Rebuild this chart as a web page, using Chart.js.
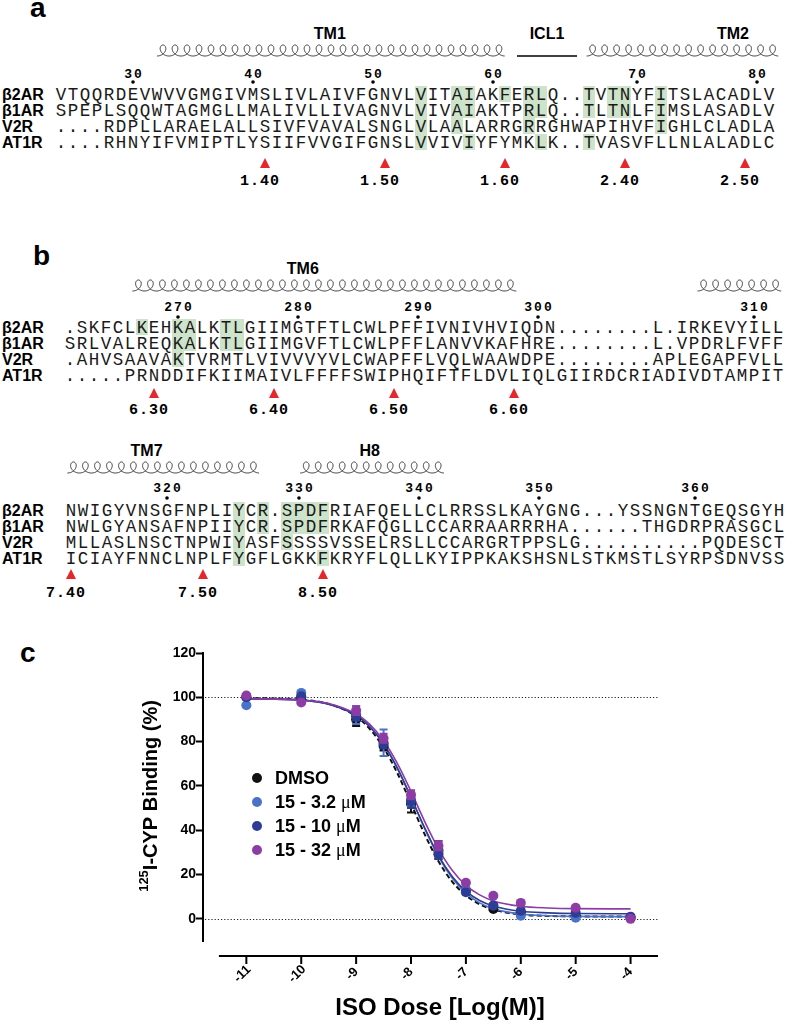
<!DOCTYPE html>
<html>
<head>
<meta charset="utf-8">
<script src="https://cdn.jsdelivr.net/npm/chart.js@4.4.1/dist/chart.umd.min.js"></script>
<style>
  body { margin: 0; background: #fff; }
  #fig { position: relative; width: 787px; height: 1020px; overflow: hidden; font-family: 'Liberation Sans', Arial, sans-serif; }
  #aln { position: absolute; left: 0; top: 0; }
  #panelC { position: absolute; left: 0; top: 620px; width: 787px; height: 400px; }
  #legend { position: absolute; left: 252px; top: 766px; font: bold 18px 'Liberation Sans', Arial, sans-serif; color: #000; }
  .lg { height: 24px; line-height: 24px; white-space: nowrap; position: relative; padding-left: 23px; }
  .lg i { position: absolute; left: 0; top: 7px; width: 10px; height: 10px; border-radius: 50%; }
  .mu { font-family: 'Liberation Serif', serif; font-weight: normal; }
  .pl { font: bold 28px 'Liberation Sans', Arial, sans-serif; fill: #000; }
  .rl { font: bold 16px 'Liberation Sans', Arial, sans-serif; fill: #000; }
  .sq { font: 17.5px 'Liberation Mono', monospace; fill: #1a1a1a; text-anchor: middle; }
  .rn { font: bold 13px 'Liberation Mono', monospace; letter-spacing: 2px; fill: #000; text-anchor: middle; }
  .mk { font: bold 15px 'Liberation Mono', monospace; letter-spacing: 1px; fill: #000; text-anchor: middle; }
  .tm { font: bold 16px 'Liberation Sans', Arial, sans-serif; fill: #000; text-anchor: middle; }
</style>
</head>
<body>
<div id="fig">
  <svg id="aln" width="787" height="1020"></svg>
  <div id="panelC"><canvas id="doseChart"></canvas></div>
  <div id="legend"></div>
</div>
<script>
// ---------- alignment data ----------
const receptors = ["β2AR", "β1AR", "V2R", "AT1R"];

const seqA = [
  "VTQQRDEVWVVGMGIVMSLIVLAIVFGNVLVITAIAKFERLQ..TVTNYFITSLACADLV",
  "SPEPLSQQWTAGMGLLMALIVLLIVAGNVLVIVAIAKTPRLQ..TLTNLFIMSLASADLV",
  "....RDPLLARAELALLSIVFVAVALSNGLVLAALARRGRRGHWAPIHVFIGHLCLADLA",
  "....RHNYIFVMIPTLYSIIFVVGIFGNSLVVIVIYFYMKLK..TVASVFLLNLALADLC"
];
const seqB1 = [
  ".SKFCLKEHKALKTLGIIMGTFTLCWLPFFIVNIVHVIQDN........L.IRKEVYILL",
  "SRLVALREQKALKTLGIIMGVFTLCWLPFFLANVVKAFHRE........L.VPDRLFVFF",
  ".AHVSAAVAKTVRMTLVIVVVYVLCWAPFFLVQLWAAWDPE........APLEGAPFVLL",
  ".....PRNDDIFKIIMAIVLFFFFSWIPHQIFTFLDVLIQLGIIRDCRIADIVDTAMPIT"
];
const seqB2 = [
  "NWIGYVNSGFNPLIYCR.SPDFRIAFQELLCLRRSSLKAYGNG...YSSNGNTGEQSGYH",
  "NWLGYANSAFNPIIYCR.SPDFRKAFQGLLCCARRAARRRHA......THGDRPRASGCL",
  "MLLASLNSCTNPWIYASFSSSSVSSELRSLLCCARGRTPPSLG..........PQDESCT",
  "ICIAYFNNCLNPLFYGFLGKKFKRYFLQLLKYIPPKAKSHSNLSTKMSTLSYRPSDNVSS"
];

// highlighted columns per receptor row
const hlA = [[30, 33, 34, 37, 39, 40, 44, 46, 47, 50], [30, 33, 34, 39, 40, 44, 46, 47, 50], [30, 33, 39, 50], [30, 34, 40, 44]];
const hlB1 = [[6, 9, 10, 13, 14], [9, 10, 13, 14], [9], []];
const hlB2 = [[14, 16, 18, 19, 20, 21], [14, 16, 18, 19, 20, 21], [14, 18], [14, 21]];

// residue numbering (column, label)
const rulerA = [[6, "30"], [16, "40"], [26, "50"], [36, "60"], [48, "70"], [58, "80"]];
const rulerB1 = [[9, "270"], [19, "280"], [29, "290"], [39, "300"], [57, "310"]];
const rulerB2 = [[8, "320"], [19, "330"], [29, "340"], [39, "350"], [52, "360"]];

// Ballesteros-Weinstein marks (column, label)
const marksA = [[17, "1.40"], [27, "1.50"], [37, "1.60"], [47, "2.40"], [57, "2.50"]];
const marksB1 = [[7, "6.30"], [17, "6.40"], [27, "6.50"], [37, "6.60"]];
const marksB2 = [[0, "7.40"], [11, "7.50"], [21, "8.50"]];

// secondary structure: kind, from col, to col, label, label col
const helixA = [["coil", 8, 37, "TM1", 22.4], ["line", 38, 43, "ICL1", 40.5], ["coil", 43.8, 59.8, "TM2", 56]];
const helixB1 = [["coil", 5.2, 37.3, "TM6", 19.4], ["coil", 52.3, 59.5, "", 0]];
const helixB2 = [["coil", -0.3, 15.6, "TM7", 6.3], ["coil", 19.1, 31, "H8", 24.9]];

// ---------- binding data (panel c) ----------
const doseLog = [-11, -10, -9, -8.5, -8, -7.5, -7, -6.5, -6, -5, -4];
const bindDMSO = [100, 100, 90, 78, 52, 31, 13, 4.5, 3, 1.5, 0.5];
const bind3_2 = [96.4, 102, 92, 79.5, 54, 30, 13, 6, 1.4, 0.5, 0.5];
const bind10 = [100, 100.5, 91.5, 79, 53, 29, 12, 6, 3.6, 2.7, 1];
const bind32 = [100.8, 97.7, 94, 81.5, 56, 33, 16.3, 10.4, 7.2, 5, 0];
const semDMSO = [0, 0, 3, 2, 4, 4, 1, 0, 0, 0, 0];
const sem3_2 = [0, 0, 4, 6, 3, 2, 1, 0, 0, 0, 0];
const sem10 = [0, 0, 2, 2, 3, 2, 1, 0, 0, 0, 0];
const sem32 = [0, 0, 2, 2, 2, 2, 0, 0, 0, 0, 0];

// fitted curves
const curveLog = [-11, -10, -9.5, -9, -8.75, -8.5, -8.25, -8, -7.75, -7.5, -7.25, -7, -6.75, -6.5, -6, -5.5, -5, -4];
const fitDMSO = [99.7, 98.9, 97.0, 91.4, 85.7, 77.3, 65.8, 52.1, 38.1, 26.0, 16.8, 10.6, 6.6, 4.2, 2.0, 1.3, 1.1, 1.0];
const fit3_2 = [99.4, 98.7, 97.0, 91.9, 86.8, 79.0, 68.1, 54.8, 40.7, 28.1, 18.4, 11.6, 7.2, 4.6, 2.2, 1.4, 1.1, 1.0];
const fit10 = [99.4, 98.7, 96.9, 91.9, 86.7, 78.9, 68.0, 54.8, 41.0, 28.6, 19.1, 12.5, 8.3, 5.8, 3.4, 2.7, 2.4, 2.3];
const fit32 = [99.4, 98.8, 97.2, 92.5, 87.8, 80.4, 70.2, 57.5, 43.9, 31.6, 21.9, 15.1, 10.8, 8.1, 5.7, 4.9, 4.6, 4.5];

const seriesNames = ["DMSO", "15 - 3.2 μM", "15 - 10 μM", "15 - 32 μM"];
const yTickVals = [0, 20, 40, 60, 80, 100, 120];
const xTickVals = [-11, -10, -9, -8, -7, -6, -5, -4];
const refLines = [0, 100];

const COLORS = ["#111111", "#4a72c8", "#2d3c94", "#8c3ca4"];

// ===============================
// alignment panels (SVG)
// ===============================
const NS = "http://www.w3.org/2000/svg";
const svg = document.getElementById("aln");
const CELL = 12, ROW = 16;

function add(tag, attrs, txt) {
  const e = document.createElementNS(NS, tag);
  for (const k in attrs) e.setAttribute(k, attrs[k]);
  if (txt != null) e.textContent = txt;
  svg.appendChild(e);
  return e;
}

// helix drawn as a looped coil, one loop per residue
function coilPath(x1, x2, top) {
  const a = CELL / (2 * Math.PI), b = 5.5;
  const turns = Math.round((x2 - x1) / CELL);
  let d = "";
  for (let t = Math.PI; t <= Math.PI + turns * 2 * Math.PI + 1e-6; t += 0.08) {
    const x = x1 + a * (t - Math.PI) - b * Math.sin(t);
    const y = top + b * (1 - Math.cos(t));
    d += (d ? "L" : "M") + x.toFixed(2) + " " + y.toFixed(2);
  }
  return d;
}

function drawBlock(L, seqs, hl, ruler, marks, helices) {
  const cx = i => L.x0 + i * CELL;

  hl.forEach((cols, r) => cols.forEach(c => {
    add("rect", { x: cx(c) - 6, y: L.rowY + r * ROW - 14, width: CELL, height: ROW, fill: "#cde3ca" });
  }));

  seqs.forEach((s, r) => {
    const y = L.rowY + r * ROW;
    add("text", { x: 2, y: y, class: "rl" }, receptors[r]);
    const xs = Array.from(s, (_, i) => cx(i)).join(" ");
    add("text", { x: xs, y: y, class: "sq" }, s);
  });

  ruler.forEach(([c, lab]) => {
    add("text", { x: cx(c) + 1, y: L.rulerY, class: "rn" }, lab);
    add("circle", { cx: cx(c), cy: L.dotY, r: 1.8, fill: "#000" });
  });

  marks.forEach(([c, lab]) => {
    const x = cx(c);
    add("polygon", { points: `${x - 5},${L.markTop + 10} ${x + 5},${L.markTop + 10} ${x},${L.markTop}`, fill: "#e5262b" });
    add("text", { x: x - 5, y: L.markLabelY, class: "mk" }, lab);
  });

  helices.forEach(([kind, from, to, lab, at]) => {
    if (kind === "coil") {
      add("path", { d: coilPath(cx(from), cx(to), L.coilTop), fill: "none", stroke: "#333", "stroke-width": 1 });
    } else {
      add("line", { x1: cx(from), x2: cx(to), y1: L.coilTop + 11, y2: L.coilTop + 11, stroke: "#000", "stroke-width": 1.5 });
    }
    if (lab) add("text", { x: cx(at), y: L.labelY, class: "tm" }, lab);
  });
}

add("text", { x: 30, y: 17, class: "pl" }, "a");
add("text", { x: 33, y: 265, class: "pl" }, "b");
add("text", { x: 20, y: 662, class: "pl" }, "c");

drawBlock({ x0: 61, rowY: 100, rulerY: 78, dotY: 82, markTop: 158, markLabelY: 185, coilTop: 45, labelY: 39 },
  seqA, hlA, rulerA, marksA, helixA);
drawBlock({ x0: 70, rowY: 333, rulerY: 311, dotY: 317, markTop: 388, markLabelY: 414, coilTop: 280, labelY: 274 },
  seqB1, hlB1, rulerB1, marksB1, helixB1);
drawBlock({ x0: 71, rowY: 516, rulerY: 492, dotY: 498, markTop: 569, markLabelY: 597, coilTop: 462, labelY: 456 },
  seqB2, hlB2, rulerB2, marksB2, helixB2);

// ===============================
// legend (HTML)
// ===============================
const legend = document.getElementById("legend");
seriesNames.forEach((name, k) => {
  const row = document.createElement("div");
  row.className = "lg";
  const dot = document.createElement("i");
  dot.style.background = COLORS[k];
  row.appendChild(dot);
  name.split("μ").forEach((part, j) => {
    if (j > 0) {
      const mu = document.createElement("span");
      mu.className = "mu";
      mu.textContent = "μ";
      row.appendChild(mu);
    }
    row.appendChild(document.createTextNode(part));
  });
  legend.appendChild(row);
});

// ===============================
// panel c chart
// ===============================
const pointVals = [bindDMSO, bind3_2, bind10, bind32];
const semVals = [semDMSO, sem3_2, sem10, sem32];
const fitVals = [fitDMSO, fit3_2, fit10, fit32];

const datasets = [];
[3, 2, 1, 0].forEach((k, n) => {
  datasets.push({
    type: "scatter",
    label: seriesNames[k],
    data: doseLog.map((x, i) => ({ x: x, y: pointVals[k][i] })),
    backgroundColor: COLORS[k],
    borderColor: COLORS[k],
    borderWidth: 0,
    pointRadius: 5,
    errs: semVals[k],
    order: n
  });
});
[3, 2, 1, 0].forEach((k, n) => {
  datasets.push({
    type: "line",
    label: seriesNames[k] + " fit",
    data: curveLog.map((x, i) => ({ x: x, y: fitVals[k][i] })),
    borderColor: COLORS[k],
    borderWidth: k === 0 ? 2 : 1.6,
    borderDash: k === 0 ? [5, 3] : [],
    pointRadius: 0,
    fill: false,
    cubicInterpolationMode: "monotone",
    order: 10 + n
  });
});

const FONT = "'Liberation Sans', Arial, sans-serif";

const errorBars = {
  id: "errorBars",
  afterDatasetDraw(chart, args) {
    const d = chart.data.datasets[args.index];
    if (!d.errs) return;
    const { ctx, scales: { x, y } } = chart;
    ctx.save();
    ctx.strokeStyle = d.backgroundColor;
    ctx.lineWidth = 2;
    d.data.forEach((p, i) => {
      const e = d.errs[i];
      if (!e) return;
      const px = x.getPixelForValue(p.x);
      const y1 = y.getPixelForValue(p.y - e), y2 = y.getPixelForValue(p.y + e);
      ctx.beginPath();
      ctx.moveTo(px, y1); ctx.lineTo(px, y2);
      ctx.moveTo(px - 4, y1); ctx.lineTo(px + 4, y1);
      ctx.moveTo(px - 4, y2); ctx.lineTo(px + 4, y2);
      ctx.stroke();
    });
    ctx.restore();
  }
};

const refLinePlugin = {
  id: "refLines",
  beforeDatasetsDraw(chart) {
    const { ctx, chartArea, scales: { y } } = chart;
    ctx.save();
    ctx.strokeStyle = "#222";
    ctx.lineWidth = 1.2;
    ctx.setLineDash([1.2, 2]);
    refLines.forEach(v => {
      const py = Math.round(y.getPixelForValue(v)) + 0.5;
      ctx.beginPath();
      ctx.moveTo(chartArea.left + 2, py);
      ctx.lineTo(chartArea.right, py);
      ctx.stroke();
    });
    ctx.restore();
  }
};

// GraphPad-style offset x axis + axis titles
const axisPlugin = {
  id: "offsetAxis",
  afterDraw(chart) {
    const { ctx, chartArea, scales: { x } } = chart;
    const yLine = chartArea.bottom + 15;
    ctx.save();
    ctx.strokeStyle = "#000";
    ctx.fillStyle = "#000";
    ctx.lineWidth = 2;
    ctx.beginPath();
    ctx.moveTo(x.getPixelForValue(-11.5), yLine);
    ctx.lineTo(x.getPixelForValue(-3.5), yLine);
    ctx.stroke();

    ctx.font = "bold 13px " + FONT;
    ctx.textAlign = "center";
    ctx.textBaseline = "middle";
    xTickVals.forEach(v => {
      const px = x.getPixelForValue(v);
      ctx.beginPath();
      ctx.moveTo(px, yLine);
      ctx.lineTo(px, yLine + 8);
      ctx.stroke();
      ctx.save();
      ctx.translate(px - 4, yLine + 18);
      ctx.rotate(-Math.PI / 4);
      ctx.fillText(String(v), 0, 0);
      ctx.restore();
    });

    // x title
    ctx.font = "bold 24px " + FONT;
    ctx.textAlign = "center";
    ctx.textBaseline = "alphabetic";
    ctx.fillText("ISO Dose [Log(M)]", 440, 395);

    // y title with superscript
    ctx.save();
    ctx.translate(157, 176);
    ctx.rotate(-Math.PI / 2);
    const supF = "bold 13px " + FONT, mainF = "bold 20px " + FONT;
    ctx.font = supF;
    const w1 = ctx.measureText("125").width;
    ctx.font = mainF;
    const w2 = ctx.measureText("I-CYP Binding (%)").width;
    const sx = -(w1 + w2) / 2;
    ctx.textAlign = "left";
    ctx.font = supF;
    ctx.fillText("125", sx, -9);
    ctx.font = mainF;
    ctx.fillText("I-CYP Binding (%)", sx + w1, 0);
    ctx.restore();
    ctx.restore();
  }
};

new Chart(document.getElementById("doseChart"), {
  type: "scatter",
  data: { datasets },
  options: {
    responsive: true,
    maintainAspectRatio: false,
    animation: false,
    layout: { padding: { top: 33, right: 129, bottom: 79, left: 0 } },
    plugins: { legend: { display: false }, tooltip: { enabled: false } },
    scales: {
      x: { type: "linear", min: -11.79, max: -3.5, display: false },
      y: {
        min: -10,
        max: 120,
        afterBuildTicks: s => { s.ticks = yTickVals.map(v => ({ value: v })); },
        afterFit: s => { s.width = 203; },
        grid: { drawOnChartArea: false, tickLength: 7, tickWidth: 2, tickColor: "#000" },
        border: { display: true, color: "#000", width: 2 },
        ticks: { font: { family: FONT, weight: "bold", size: 14 }, color: "#000", padding: 0 }
      }
    }
  },
  plugins: [refLinePlugin, errorBars, axisPlugin]
});
</script>
</body>
</html>
